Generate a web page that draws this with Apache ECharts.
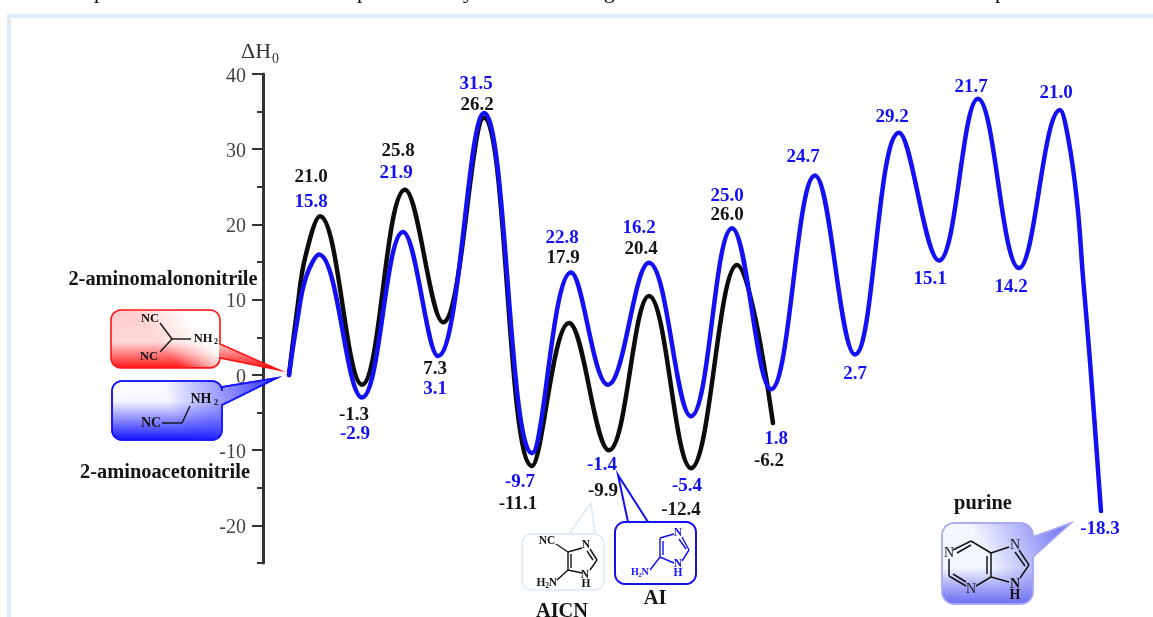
<!DOCTYPE html>
<html><head><meta charset="utf-8">
<style>html,body{margin:0;padding:0;background:#fff}#c{width:1153px;height:617px}</style>
<script src="https://cdn.jsdelivr.net/npm/echarts@6/dist/echarts.min.js"></script>
</head><body><div id="c"></div>
<script>
// ---- data ----
var blackX = [0,0.8,1.6,3.1,7.3,11.6,15.4,19.5,24.3,28,32,36,40.2,44.8,48.4];
var blackY = [0,8.5,15.5,21.1,-1.3,24.6,7,34.2,-12.1,6.9,-10,10.5,-12.4,14.6,-6.4];
var blueX = [0,0.8,1.7,3,7.3,11.4,14.9,19.5,24.3,28.2,31.9,36,40.2,44.3,48.2,52.6,56.6,61,65,68.9,73,77.1,77.9,78.8,79.4,80.1,81.2];
var blueY = [0,7,13,16,-3,19,2.5,34.8,-10.4,13.6,-1.3,14.9,-5.5,19.5,-1.9,26.5,2.7,32.2,15.2,36.7,14.2,35.2,31.6,23.1,13,1.8,-18.1];
var blackLabels = ['21.0','-1.3','25.8','7.3','26.2','-11.1','17.9','-9.9','20.4','-12.4','26.0','-6.2'];
var blueLabels = ['15.8','-2.9','21.9','3.1','31.5','-9.7','22.8','-1.4','16.2','-5.4','25.0','1.8','24.7','2.7','29.2','15.1','21.7','14.2','21.0','-18.3'];
var yMajorTicks = [-20,-10,0,10,20,30,40];
var yMinorTicks = [-25,-15,-5,5,15,25,35];
// ---- layout of the annotations ----
var blackLabelPos = [[311,177],[354,415],[398,151],[435,369],[477,105],[518,504],[563,258],[603,491],[641,249],[681,510],[727,215],[769,461]];
var blueLabelPos = [[311,202],[355,434],[396,173],[435,389],[476,84],[520,482],[562,238],[602,465],[639,228],[687,486],[727,196],[776,439],[803,157],[855,374],[892,117],[930,279],[971,87],[1011,287],[1056,93],[1100,529]];
var BLACK='#141414', BLUE='#1410f4', SERIF='"Liberation Serif", serif';
var g=[];
function txt(s,x,y,o){o=o||{};g.push({type:'text',x:x,y:y,z:o.z||20,style:{text:s,fill:o.c||BLACK,font:(o.w||'bold')+' '+(o.s||20.4)+'px '+SERIF,align:o.a||'center',verticalAlign:'middle'}});}
function bond(a,b,c,d,col,w){g.push({type:'line',z:20,shape:{x1:a,y1:b,x2:c,y2:d},style:{stroke:col||BLACK,lineWidth:w||1.4}});}
function sub(s,x,y,o){o=o||{};o.s=o.s||12;txt(s,x,y,o);}
function call(x0,y0,x1,y1,r,tail,side){
  var p=[],cs=[[x1-r,y0+r,-90],[x1-r,y1-r,0],[x0+r,y1-r,90],[x0+r,y0+r,180]],i,k;
  for(i=0;i<4;i++){
    for(k=0;k<=6;k++){var a=(cs[i][2]+k*15)*Math.PI/180;p.push([cs[i][0]+r*Math.cos(a),cs[i][1]+r*Math.sin(a)]);}
    if(side==='right'&&i===0) tail.forEach(function(t){p.push(t);});
  }
  if(side==='top') tail.forEach(function(t){p.push(t);});
  return p;
}
function shape(pts,fill,stroke,w){g.push({type:'polygon',z:10,shape:{points:pts},style:{fill:fill,stroke:stroke,lineWidth:w||0}});}
function lg(x,y,x2,y2,st){return {type:'linear',x:x,y:y,x2:x2,y2:y2,global:true,colorStops:st.map(function(s){return {offset:s[0],color:s[1]};})};}

// page remnants
g.push({type:'rect',z:1,shape:{x:7,y:14,width:1146,height:4},style:{fill:'#deeaf8'}});
g.push({type:'rect',z:1,shape:{x:7,y:14,width:4,height:603},style:{fill:'#deeaf8'}});
[['served',0],['preferred',94],['formation',187],['of',290],['purine',357],['by',452],['heating',550],['of',655],['formamide',700],['because',800],['HCN',895],['is',950],['produced',995],['fo',1120]].forEach(function(w){
  g.push({type:'text',x:w[1],y:3.5,z:1,style:{text:w[0],fill:'#000',font:'22px '+SERIF,align:'left',verticalAlign:'bottom'}});
});

// callouts
var redP=call(111,310,220,368,10,[[220,344],[279,370],[220,358]],'right');
shape(redP,lg(0,310,0,368,[[0,'#ffcccc'],[0.55,'#ffd8d8'],[1,'#ff1414']]),'#ff1414',1.6);
shape(call(112,311,219,367,9,[],''),lg(165,350,205,315,[[0,'rgba(255,255,255,0)'],[0.7,'rgba(255,255,255,0.95)'],[1,'rgba(255,255,255,1)']]));
var bluP=call(112,381,222,440,10,[[222,387],[277,378],[222,405]],'right');
shape(bluP,lg(0,381,0,440,[[0,'#ffffff'],[0.35,'#f4f4ff'],[1,'#1414ff']]),'#1414ff',1.6);
shape(bluP,lg(175,420,280,385,[[0,'rgba(40,40,255,0)'],[0.4,'rgba(70,70,255,0.45)'],[1,'rgba(40,40,255,1)']]),'#1414ff',1.6);
shape(call(522,534,604,590,10,[[595,534],[591,503],[569,534]],'top').slice(0),'#fff','#dce9f7',1.6);
shape(call(615,522,696,584,10,[[648,522],[618,475],[628,522]],'top'),'#fff',BLUE,2);
var purP=call(942,523,1033,604,12,[[1033,537],[1071,523],[1033,557]],'right');
shape(purP,lg(0,523,0,604,[[0,'#f2f6ff'],[0.55,'#f4f7ff'],[0.8,'#a4a4f8'],[1,'#6c6cf4']]),'#a8a8f6',1.4);
shape(purP,lg(985,560,1060,530,[[0,'rgba(125,125,245,0)'],[1,'rgba(125,125,245,1)']]),'#a8a8f6',1.4);

// red molecule
bond(160,323,172,339);bond(172,339,160,352);bond(172,339,191,339);
txt('NC',150,319,{s:12.5});txt('NC',149,357,{s:12.5});txt('NH',203,339,{s:12.5});sub('2',216,342,{s:8});
// blue molecule
bond(162,423,182,423);bond(182,423,190,406);
txt('NC',151,423,{s:14});txt('NH',201,399,{s:14});sub('2',216,403,{s:9});
// AICN
bond(556,544,568,552);bond(568,552,568,570);bond(571,554,571,568);bond(568,552,582,548);bond(590,549,597,560);bond(587,551,593,560);bond(597,560,590,570);bond(582,573,568,570);bond(568,570,557,580);
txt('NC',547,541,{s:11.5});txt('N',586,545,{s:11.5});txt('N',585,575,{s:11.5});txt('H',586,584,{s:11.5});
txt('H',541,583,{s:11.5});sub('2',547,586,{s:7.5});txt('N',553,583,{s:11.5});
// AI
bond(660,538,660,557,BLUE);bond(663,541,663,555,BLUE);bond(660,538,674,534,BLUE);bond(682,537,689,550,BLUE);bond(679,539,686,549,BLUE);bond(689,550,682,561,BLUE);bond(674,563,660,557,BLUE);bond(660,557,650,570,BLUE);
txt('N',678,533,{s:11.5,c:BLUE});txt('N',678,564,{s:11.5,c:BLUE});txt('H',678,573,{s:11.5,c:BLUE});
txt('H',635,572,{s:10,c:BLUE});sub('2',640,575,{s:7,c:BLUE});txt('N',645,572,{s:10,c:BLUE});
// purine
[[953,550,971,541],[957,553,971,545],[971,541,991,553],[991,553,991,577],[987,556,987,574],[991,577,976,586],[966,586,949,576],[966,582,953,574],[949,576,949,559],[991,553,1009,547],[1019,550,1029,565],[1015,552,1025,566],[1029,565,1020,578],[1009,582,991,577]].forEach(function(b){bond(b[0],b[1],b[2],b[3],BLACK,1.5);});
txt('N',949,553,{w:'normal',s:14});txt('N',971,589,{w:'normal',s:14});txt('N',1015,545,{w:'normal',s:14});txt('N',1015,584,{s:14});txt('H',1015,595,{s:14});

// names
txt('2-aminomalononitrile',163,280);txt('2-aminoacetonitrile',165,473);
txt('AICN',562,612);txt('AI',655,599);txt('purine',983,504);
// value labels
blackLabels.forEach(function(s,i){txt(s,blackLabelPos[i][0],blackLabelPos[i][1],{s:19});});
blueLabels.forEach(function(s,i){txt(s,blueLabelPos[i][0],blueLabelPos[i][1],{s:19,c:BLUE});});

function pairs(xs,ys){return xs.map(function(x,i){return [x,ys[i]];});}
var chart=echarts.init(document.getElementById('c'),null,{renderer:'canvas'});
var axisColor='#333';
chart.setOption({
  animation:false,backgroundColor:'#fff',
  grid:{left:263,top:74,right:0,height:489,containLabel:false},
  xAxis:{type:'value',min:-2.6,max:86.4,show:false},
  yAxis:[
   {type:'value',min:-25,max:40,position:'left',
    name:'{a|ΔH}{b|0}',nameLocation:'end',nameGap:8,
    nameTextStyle:{align:'center',padding:[0,6,0,0],rich:{a:{fontFamily:SERIF,fontSize:22,color:'#333'},b:{fontFamily:SERIF,fontSize:14,color:'#333',verticalAlign:'bottom',padding:[14,0,0,1]}}},
    axisLine:{show:true,onZero:false,lineStyle:{color:axisColor,width:3}},
    axisTick:{show:true,length:11,lineStyle:{color:axisColor,width:2},customValues:yMajorTicks},
    axisLabel:{show:true,margin:17,formatter:'{v|{value}}',rich:{v:{fontFamily:SERIF,fontSize:20,color:'#444',padding:[5,0,0,0]}},customValues:yMajorTicks},
    splitLine:{show:false}},
   {type:'value',min:-25,max:40,position:'left',
    axisLine:{show:false,onZero:false},
    axisTick:{show:true,length:6,lineStyle:{color:axisColor,width:2},customValues:yMinorTicks},
    axisLabel:{show:false},splitLine:{show:false}}
  ],
  graphic:g,
  series:[
   {name:'2-aminomalononitrile',type:'line',data:pairs(blackX,blackY),smooth:0.4,symbol:'none',clip:false,z:3,lineStyle:{color:'#0c0c0c',width:4.5,cap:'round'}},
   {name:'2-aminoacetonitrile',type:'line',data:pairs(blueX,blueY),smooth:0.4,symbol:'none',clip:false,z:4,lineStyle:{color:BLUE,width:4.5,cap:'round'}}
  ]
});
</script></body></html>
